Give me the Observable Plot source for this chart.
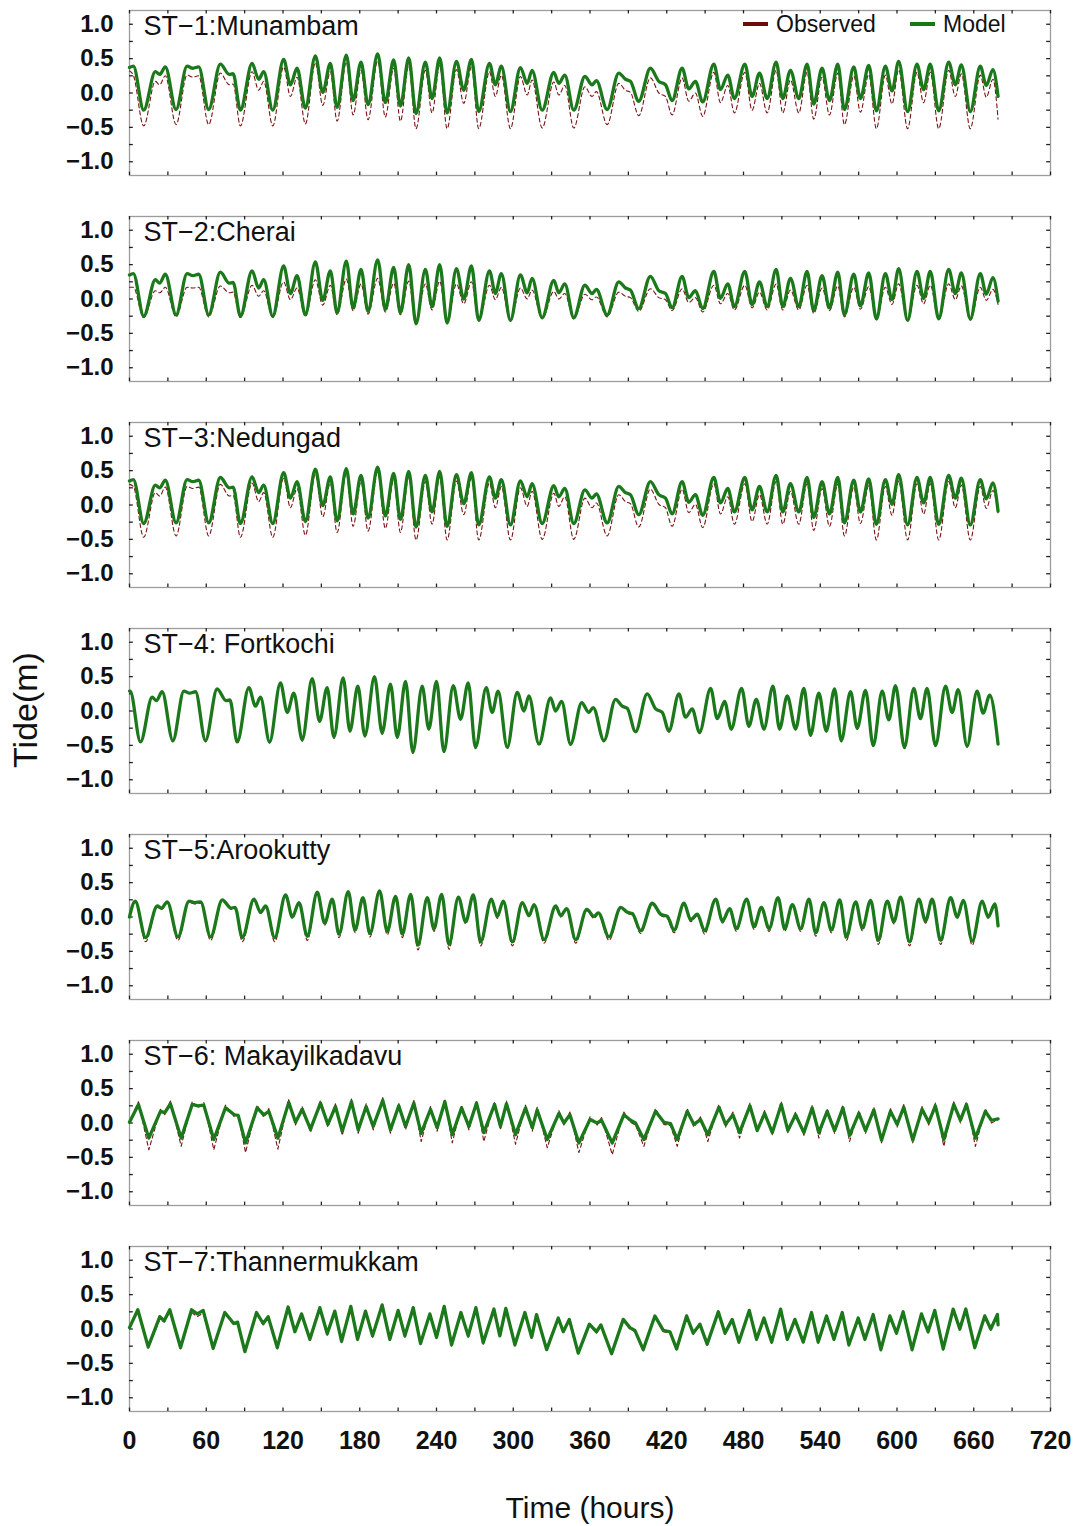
<!DOCTYPE html>
<html>
<head>
<meta charset="utf-8">
<script src="https://cdn.jsdelivr.net/npm/d3@7"></script>
<script src="https://cdn.jsdelivr.net/npm/@observablehq/plot@0.6"></script>
<style>
  html, body { margin: 0; padding: 0; background: #fff; }
  #fig { position: relative; width: 1075px; height: 1526px; font-family: "Liberation Sans", Arial, sans-serif; }
  #fig svg { position: absolute; left: 0; top: 0; }
  .legend-item { position: absolute; top: 9px; height: 30px; display: flex; align-items: center; font-size: 23px; color: #111; }
  .legend-item .sw { width: 25px; height: 4px; margin-right: 8px; }
  #ytitle { position: absolute; left: 25px; top: 710px; transform: translate(-50%, -50%) rotate(-90deg); font-size: 34px; white-space: nowrap; color: #111; }
  #xtitle { position: absolute; left: 590px; top: 1508px; transform: translate(-50%, -50%); font-size: 30px; white-space: nowrap; color: #111; }
</style>
</head>
<body>
<div id="fig">
  <div class="legend-item" style="left:743px"><span class="sw" style="background:#6e0b0b"></span>Observed</div>
  <div class="legend-item" style="left:910px"><span class="sw" style="background:#137a13"></span>Model</div>
  <div id="ytitle">Tide(m)</div>
  <div id="xtitle">Time (hours)</div>
</div>
<script>
// Station panels, top to bottom
const stations = ["ST−1:Munambam", "ST−2:Cherai", "ST−3:Nedungad", "ST−4: Fortkochi",
                  "ST−5:Arookutty", "ST−6: Makayilkadavu", "ST−7:Thannermukkam"];

// Tidal phase lag of each station relative to Fortkochi (hours)
const phaseLagHours = [2.5, 2.5, 2.5, 0, 4, 6.5, 6];

// Upstream backwater stations have a sharper, saw-tooth tide curve
const sawToothStations = ["ST−6: Makayilkadavu", "ST−7:Thannermukkam"];

// Hours of successive high / low waters at Fortkochi
const extremeHours = [
  0.5, 8.6, 17.7, 21.1, 25.5, 33.9, 42.5, 47.0, 51.6, 59.4,
  68.5, 75.5, 78.5, 84.2, 93.3, 98.5, 102.4, 109.5, 118.0, 123.3,
  128.5, 135.0, 142.8, 148.6, 154.5, 159.8, 167.0, 172.3, 178.5, 184.0,
  191.5, 197.5, 204.0, 209.3, 215.8, 221.5, 228.8, 234.0, 240.0, 245.8,
  253.1, 258.8, 264.8, 270.5, 278.9, 283.5, 288.2, 295.3, 303.1, 308.4,
  312.2, 320.1, 329.2, 333.1, 337.8, 344.8, 353.5, 359.1, 362.5, 370.9,
  380.0, 385.2, 389.1, 395.6, 404.7, 411.3, 416.5, 421.7, 429.5, 434.7,
  439.9, 445.6, 454.3, 459.5, 465.2, 470.4, 478.5, 484.2, 490.0, 496.0,
  503.0, 508.2, 514.2, 520.7, 527.2, 532.4, 538.9, 544.7, 551.2, 556.4,
  563.7, 568.9, 575.4, 581.4, 588.4, 593.6, 598.8, 605.8, 613.1, 618.3,
  623.5, 630.1, 637.9, 643.1, 647.8, 654.8, 662.6, 667.3, 672.5
];
const endHour = 679;

// Water level (m) at the start and end of the record
const startModel    = [0.37, 0.35, 0.35, 0.29, 0.00, 0.01, 0.02];
const startObserved = [0.32, 0.17, 0.30, 0.29, 0.00, 0.01, 0.02];
const endModel      = [-0.05, -0.03, -0.09, -0.48, -0.13, 0.06, 0.06];
const endObserved   = [-0.38, -0.08, -0.12, -0.50, -0.15, 0.05, 0.05];

// Levels (m) at each high / low water, per station
const modelST1 = [
  0.39,-0.25,0.31,0.27,0.38,-0.24,0.39,0.36,0.38,-0.24,
  0.42,0.27,0.28,-0.25,0.43,0.20,0.31,-0.25,0.49,0.12,
  0.36,-0.22,0.54,0.01,0.43,-0.21,0.55,-0.11,0.45,-0.17,
  0.57,-0.14,0.48,-0.19,0.51,-0.30,0.45,-0.08,0.51,-0.29,
  0.46,0.04,0.49,-0.27,0.43,0.12,0.39,-0.27,0.37,0.14,
  0.33,-0.25,0.30,0.14,0.26,-0.25,0.24,0.12,0.18,-0.24,
  0.29,0.20,0.17,-0.12,0.36,0.17,0.12,-0.11,0.36,0.06,
  0.17,-0.13,0.42,0.05,0.26,-0.08,0.42,-0.05,0.29,-0.08,
  0.45,-0.08,0.33,-0.08,0.42,-0.16,0.36,-0.11,0.42,-0.24,
  0.38,-0.08,0.40,-0.26,0.39,0.03,0.46,-0.27,0.42,0.05,
  0.42,-0.26,0.45,0.12,0.41,-0.27,0.39,0.11,0.34
];
const observedST1 = [
  0.26,-0.48,0.17,0.12,0.25,-0.46,0.26,0.23,0.25,-0.46,
  0.29,0.12,0.13,-0.48,0.31,0.04,0.17,-0.48,0.38,-0.05,
  0.23,-0.45,0.44,-0.18,0.31,-0.41,0.45,-0.32,0.33,-0.39,
  0.47,-0.35,0.36,-0.41,0.40,-0.52,0.33,-0.29,0.40,-0.52,
  0.34,-0.15,0.38,-0.52,0.31,-0.05,0.26,-0.52,0.24,-0.03,
  0.19,-0.51,0.16,-0.03,0.11,-0.51,0.09,-0.05,0.02,-0.46,
  0.14,0.04,0.01,-0.33,0.22,0.00,-0.05,-0.32,0.22,-0.12,
  0.00,-0.34,0.30,-0.14,0.11,-0.29,0.30,-0.25,0.14,-0.29,
  0.33,-0.29,0.19,-0.29,0.30,-0.38,0.23,-0.32,0.29,-0.46,
  0.25,-0.28,0.27,-0.52,0.26,-0.16,0.34,-0.52,0.30,-0.14,
  0.30,-0.52,0.33,-0.05,0.28,-0.52,0.26,-0.06,0.20
];
const modelST2 = [
  0.37,-0.25,0.28,0.23,0.36,-0.23,0.37,0.34,0.36,-0.23,
  0.39,0.23,0.24,-0.25,0.41,0.16,0.28,-0.25,0.48,0.08,
  0.34,-0.23,0.54,-0.02,0.41,-0.20,0.55,-0.13,0.43,-0.18,
  0.57,-0.15,0.46,-0.20,0.50,-0.36,0.43,-0.11,0.50,-0.35,
  0.44,0.00,0.48,-0.31,0.41,0.08,0.37,-0.31,0.35,0.09,
  0.30,-0.27,0.27,0.09,0.22,-0.27,0.20,0.08,0.14,-0.23,
  0.25,0.16,0.13,-0.14,0.33,0.12,0.08,-0.13,0.33,0.02,
  0.12,-0.14,0.40,0.01,0.22,-0.11,0.40,-0.08,0.25,-0.11,
  0.43,-0.11,0.30,-0.11,0.40,-0.17,0.34,-0.13,0.39,-0.23,
  0.36,-0.10,0.38,-0.29,0.37,-0.01,0.44,-0.31,0.40,0.01,
  0.40,-0.29,0.43,0.08,0.38,-0.29,0.37,0.07,0.31
];
const observedST2 = [
  0.17,-0.27,0.12,0.09,0.17,-0.26,0.17,0.16,0.17,-0.26,
  0.19,0.09,0.10,-0.27,0.20,0.04,0.12,-0.27,0.25,-0.01,
  0.16,-0.25,0.28,-0.09,0.20,-0.23,0.29,-0.17,0.22,-0.22,
  0.30,-0.19,0.23,-0.23,0.26,-0.36,0.22,-0.16,0.26,-0.35,
  0.22,-0.07,0.25,-0.32,0.20,-0.01,0.17,-0.32,0.16,0.00,
  0.13,-0.29,0.11,0.00,0.08,-0.29,0.07,-0.01,0.03,-0.26,
  0.10,0.04,0.02,-0.18,0.15,0.02,-0.01,-0.17,0.15,-0.05,
  0.02,-0.19,0.20,-0.07,0.08,-0.16,0.20,-0.13,0.10,-0.16,
  0.22,-0.16,0.13,-0.16,0.20,-0.21,0.16,-0.17,0.19,-0.26,
  0.17,-0.15,0.18,-0.30,0.17,-0.08,0.22,-0.32,0.20,-0.07,
  0.20,-0.30,0.22,-0.01,0.19,-0.31,0.17,-0.02,0.14
];
const modelST3 = [
  0.37,-0.27,0.29,0.25,0.36,-0.26,0.37,0.34,0.36,-0.26,
  0.40,0.25,0.26,-0.27,0.41,0.18,0.29,-0.27,0.47,0.10,
  0.34,-0.24,0.52,-0.01,0.41,-0.23,0.53,-0.13,0.43,-0.19,
  0.55,-0.16,0.46,-0.21,0.49,-0.32,0.43,-0.10,0.49,-0.31,
  0.44,0.02,0.47,-0.29,0.41,0.10,0.37,-0.29,0.35,0.12,
  0.31,-0.27,0.28,0.12,0.24,-0.27,0.22,0.10,0.16,-0.26,
  0.27,0.18,0.15,-0.14,0.34,0.15,0.10,-0.13,0.34,0.04,
  0.15,-0.15,0.40,0.03,0.24,-0.10,0.40,-0.07,0.27,-0.10,
  0.43,-0.10,0.31,-0.10,0.40,-0.18,0.34,-0.13,0.40,-0.26,
  0.36,-0.10,0.38,-0.28,0.37,0.01,0.44,-0.29,0.40,0.03,
  0.40,-0.28,0.43,0.10,0.39,-0.29,0.37,0.09,0.32
];
const observedST3 = [
  0.27,-0.47,0.18,0.13,0.26,-0.45,0.27,0.24,0.26,-0.45,
  0.30,0.13,0.14,-0.47,0.32,0.05,0.18,-0.47,0.39,-0.04,
  0.24,-0.44,0.45,-0.17,0.32,-0.40,0.46,-0.31,0.34,-0.38,
  0.48,-0.34,0.37,-0.40,0.41,-0.51,0.34,-0.28,0.41,-0.51,
  0.35,-0.14,0.39,-0.51,0.32,-0.04,0.27,-0.51,0.25,-0.02,
  0.20,-0.50,0.17,-0.02,0.12,-0.50,0.10,-0.04,0.03,-0.45,
  0.15,0.05,0.02,-0.32,0.23,0.01,-0.04,-0.31,0.23,-0.11,
  0.01,-0.33,0.31,-0.13,0.12,-0.28,0.31,-0.24,0.15,-0.28,
  0.34,-0.28,0.20,-0.28,0.31,-0.37,0.24,-0.31,0.30,-0.45,
  0.26,-0.27,0.28,-0.51,0.27,-0.15,0.35,-0.51,0.31,-0.13,
  0.31,-0.51,0.34,-0.04,0.29,-0.51,0.27,-0.05,0.21
];
const modelST4 = [
  0.29,-0.45,0.20,0.15,0.28,-0.43,0.29,0.26,0.28,-0.43,
  0.32,0.15,0.16,-0.45,0.34,0.07,0.20,-0.45,0.41,-0.02,
  0.26,-0.42,0.47,-0.15,0.34,-0.38,0.48,-0.29,0.36,-0.36,
  0.50,-0.32,0.39,-0.38,0.43,-0.60,0.36,-0.26,0.43,-0.59,
  0.37,-0.12,0.41,-0.53,0.34,-0.02,0.29,-0.53,0.27,0.00,
  0.22,-0.48,0.19,0.00,0.14,-0.48,0.12,-0.02,0.05,-0.43,
  0.17,0.07,0.04,-0.30,0.25,0.03,-0.02,-0.29,0.25,-0.09,
  0.03,-0.31,0.33,-0.11,0.14,-0.26,0.33,-0.22,0.17,-0.26,
  0.36,-0.26,0.22,-0.26,0.33,-0.35,0.26,-0.29,0.32,-0.43,
  0.28,-0.25,0.30,-0.50,0.29,-0.13,0.37,-0.53,0.33,-0.11,
  0.33,-0.50,0.36,-0.02,0.31,-0.51,0.29,-0.03,0.23
];
const observedST4 = [
  0.29,-0.47,0.20,0.15,0.28,-0.45,0.29,0.26,0.28,-0.45,
  0.32,0.15,0.16,-0.47,0.34,0.07,0.20,-0.47,0.41,-0.03,
  0.26,-0.44,0.47,-0.16,0.34,-0.40,0.48,-0.31,0.36,-0.38,
  0.50,-0.34,0.39,-0.40,0.43,-0.62,0.36,-0.28,0.43,-0.61,
  0.37,-0.13,0.41,-0.55,0.34,-0.03,0.29,-0.55,0.27,-0.01,
  0.22,-0.50,0.19,-0.01,0.14,-0.50,0.12,-0.03,0.05,-0.45,
  0.17,0.07,0.04,-0.32,0.25,0.03,-0.03,-0.31,0.25,-0.10,
  0.03,-0.33,0.33,-0.12,0.14,-0.28,0.33,-0.24,0.17,-0.28,
  0.36,-0.28,0.22,-0.28,0.33,-0.37,0.26,-0.31,0.32,-0.45,
  0.28,-0.27,0.30,-0.52,0.29,-0.14,0.37,-0.55,0.33,-0.12,
  0.33,-0.52,0.36,-0.03,0.31,-0.53,0.29,-0.04,0.23
];
const modelST5 = [
  0.23,-0.30,0.16,0.13,0.22,-0.29,0.23,0.21,0.22,-0.29,
  0.25,0.13,0.14,-0.30,0.26,0.07,0.16,-0.30,0.32,0.00,
  0.21,-0.28,0.36,-0.09,0.26,-0.25,0.37,-0.19,0.28,-0.24,
  0.38,-0.21,0.30,-0.25,0.33,-0.41,0.28,-0.17,0.33,-0.40,
  0.29,-0.07,0.32,-0.36,0.26,0.01,0.23,-0.36,0.21,0.02,
  0.18,-0.33,0.16,0.02,0.12,-0.33,0.11,0.01,0.06,-0.29,
  0.14,0.07,0.05,-0.20,0.20,0.04,0.01,-0.19,0.20,-0.04,
  0.04,-0.20,0.26,-0.06,0.12,-0.17,0.26,-0.14,0.14,-0.17,
  0.28,-0.17,0.18,-0.17,0.26,-0.23,0.21,-0.19,0.25,-0.29,
  0.22,-0.16,0.24,-0.34,0.23,-0.07,0.29,-0.36,0.26,-0.06,
  0.26,-0.34,0.28,0.00,0.24,-0.35,0.23,0.00,0.19
];
const observedST5 = [
  0.21,-0.36,0.14,0.11,0.20,-0.34,0.21,0.19,0.20,-0.34,
  0.23,0.11,0.12,-0.36,0.24,0.05,0.14,-0.36,0.30,-0.02,
  0.19,-0.34,0.34,-0.12,0.24,-0.30,0.35,-0.23,0.26,-0.29,
  0.36,-0.26,0.28,-0.30,0.31,-0.48,0.26,-0.21,0.31,-0.47,
  0.27,-0.10,0.30,-0.42,0.24,-0.02,0.21,-0.42,0.19,0.00,
  0.16,-0.38,0.14,0.00,0.10,-0.38,0.09,-0.02,0.04,-0.34,
  0.12,0.05,0.03,-0.24,0.18,0.02,-0.02,-0.23,0.18,-0.07,
  0.02,-0.25,0.24,-0.09,0.10,-0.21,0.24,-0.18,0.12,-0.21,
  0.26,-0.21,0.16,-0.21,0.24,-0.28,0.19,-0.23,0.23,-0.34,
  0.20,-0.20,0.22,-0.40,0.21,-0.10,0.27,-0.42,0.24,-0.09,
  0.24,-0.40,0.26,-0.02,0.22,-0.41,0.21,-0.02,0.17
];
const modelST6 = [
  0.27,-0.22,0.17,0.15,0.28,-0.22,0.27,0.25,0.26,-0.24,
  0.22,0.12,0.11,-0.29,0.22,0.12,0.17,-0.22,0.30,0.01,
  0.20,-0.09,0.29,-0.02,0.24,-0.12,0.31,-0.10,0.24,-0.05,
  0.33,-0.10,0.25,-0.05,0.29,-0.15,0.20,-0.07,0.31,-0.17,
  0.22,-0.05,0.29,-0.14,0.27,-0.05,0.28,-0.17,0.22,-0.07,
  0.19,-0.24,0.14,0.00,0.12,-0.29,0.05,0.00,0.04,-0.29,
  0.12,0.04,0.00,-0.24,0.17,0.01,-0.01,-0.24,0.17,-0.02,
  0.05,-0.17,0.23,-0.02,0.12,-0.14,0.25,-0.11,0.14,-0.14,
  0.27,-0.11,0.12,-0.14,0.22,-0.14,0.17,-0.11,0.22,-0.18,
  0.14,-0.11,0.19,-0.25,0.17,-0.02,0.23,-0.25,0.20,0.01,
  0.25,-0.24,0.27,0.04,0.27,-0.22,0.17,0.04,0.19
];
const observedST6 = [
  0.31,-0.39,0.20,0.12,0.32,-0.34,0.31,0.22,0.30,-0.39,
  0.26,0.09,0.12,-0.43,0.26,0.08,0.21,-0.38,0.34,-0.03,
  0.24,-0.14,0.33,-0.06,0.28,-0.18,0.35,-0.15,0.28,-0.10,
  0.37,-0.15,0.29,-0.10,0.33,-0.27,0.24,-0.12,0.35,-0.29,
  0.26,-0.10,0.33,-0.27,0.31,-0.10,0.32,-0.31,0.26,-0.12,
  0.23,-0.36,0.18,-0.03,0.16,-0.43,0.09,-0.03,0.08,-0.46,
  0.16,0.01,-0.03,-0.34,0.21,-0.02,-0.04,-0.34,0.21,-0.06,
  0.09,-0.27,0.27,-0.06,0.16,-0.22,0.29,-0.10,0.18,-0.17,
  0.31,-0.14,0.16,-0.18,0.26,-0.22,0.21,-0.15,0.26,-0.27,
  0.18,-0.15,0.23,-0.29,0.21,-0.06,0.27,-0.29,0.24,-0.03,
  0.29,-0.34,0.31,0.00,0.31,-0.34,0.21,0.00,0.23
];
const modelST7 = [
  0.28,-0.26,0.18,0.12,0.28,-0.27,0.28,0.22,0.27,-0.28,
  0.24,0.08,0.10,-0.33,0.24,0.08,0.18,-0.27,0.32,-0.04,
  0.22,-0.15,0.31,-0.07,0.26,-0.18,0.33,-0.15,0.26,-0.10,
  0.35,-0.15,0.27,-0.10,0.31,-0.21,0.22,-0.12,0.33,-0.23,
  0.24,-0.10,0.31,-0.20,0.29,-0.10,0.30,-0.23,0.24,-0.12,
  0.21,-0.30,0.16,-0.04,0.14,-0.35,0.07,-0.04,0.06,-0.36,
  0.14,0.02,-0.02,-0.30,0.19,-0.02,-0.04,-0.29,0.19,-0.06,
  0.07,-0.22,0.25,-0.06,0.14,-0.19,0.27,-0.15,0.16,-0.19,
  0.29,-0.15,0.14,-0.19,0.24,-0.19,0.19,-0.15,0.24,-0.23,
  0.16,-0.15,0.21,-0.30,0.19,-0.06,0.25,-0.30,0.22,-0.04,
  0.27,-0.29,0.29,0.00,0.29,-0.27,0.19,0.00,0.21
];
const observedST7 = [
  0.26,-0.28,0.14,0.10,0.25,-0.29,0.24,0.18,0.23,-0.30,
  0.22,0.06,0.08,-0.35,0.22,0.06,0.16,-0.29,0.30,-0.06,
  0.20,-0.17,0.30,-0.09,0.25,-0.20,0.32,-0.17,0.25,-0.12,
  0.34,-0.17,0.26,-0.12,0.30,-0.23,0.21,-0.14,0.32,-0.25,
  0.23,-0.12,0.30,-0.22,0.28,-0.12,0.29,-0.25,0.23,-0.14,
  0.20,-0.32,0.15,-0.06,0.13,-0.37,0.06,-0.06,0.05,-0.38,
  0.13,0.00,-0.04,-0.32,0.18,-0.04,-0.06,-0.31,0.18,-0.08,
  0.06,-0.24,0.24,-0.08,0.13,-0.21,0.26,-0.17,0.15,-0.21,
  0.28,-0.17,0.13,-0.21,0.23,-0.21,0.18,-0.17,0.23,-0.25,
  0.15,-0.17,0.20,-0.32,0.18,-0.08,0.24,-0.32,0.21,-0.06,
  0.26,-0.31,0.28,-0.02,0.28,-0.29,0.18,-0.02,0.20
];

const modelByStation = [modelST1, modelST2, modelST3, modelST4, modelST5, modelST6, modelST7];
const observedByStation = [observedST1, observedST2, observedST3, observedST4, observedST5, observedST6, observedST7];

// Axis ticks
const xTicks = [0, 60, 120, 180, 240, 300, 360, 420, 480, 540, 600, 660, 720];
const xMinorTicks = d3.range(0, 721, 30);
const yTicks = [-1, -0.5, 0, 0.5, 1];
const yMinorTicks = [-1, -0.75, -0.5, -0.25, 0, 0.25, 0.5, 0.75, 1];
const yDomain = [-1.2, 1.2];

// Build one time series per station and series
function seriesRows(levelsByStation, startLevels, endLevels) {
  const rows = [];
  stations.forEach((station, s) => {
    rows.push({station, hour: 0, level: startLevels[s]});
    extremeHours.forEach((h, i) => {
      const hour = h + phaseLagHours[s];
      if (hour > 0 && hour < endHour) rows.push({station, hour, level: levelsByStation[s][i]});
    });
    rows.push({station, hour: endHour, level: endLevels[s]});
  });
  return rows;
}
const observedRows = seriesRows(observedByStation, startObserved, endObserved);
const modelRows = seriesRows(modelByStation, startModel, endModel);
const isSaw = d => sawToothStations.includes(d.station);

const tickFont = '"Liberation Sans Narrow", "Arial Narrow", "Liberation Sans", Arial, sans-serif';
const obsStyle = {x: "hour", y: "level", fy: "station", z: "station",
  stroke: "#7a1414", strokeWidth: 1.1, strokeDasharray: "4,3"};
const modelStyle = {x: "hour", y: "level", fy: "station", z: "station",
  stroke: "#1b781b", strokeWidth: 3.3};

const chart = Plot.plot({
  width: 1075,
  height: 1526,
  marginLeft: 129,
  marginRight: 25,
  marginTop: 8,
  marginBottom: 112,
  style: {background: "white", color: "#111", fontFamily: tickFont},
  x: {domain: [0, 720]},
  y: {domain: yDomain},
  fy: {domain: stations, paddingInner: 0.198, paddingOuter: 0, axis: null},
  marks: [
    Plot.frame({stroke: "#9c9c9c", strokeWidth: 1.3}),
    Plot.ruleX(xMinorTicks, {x: d => d, y1: yDomain[1], y2: yDomain[1] - 0.05, stroke: "#222", strokeWidth: 1.3}),
    Plot.ruleX(xMinorTicks, {x: d => d, y1: yDomain[0], y2: yDomain[0] + 0.05, stroke: "#222", strokeWidth: 1.3}),
    Plot.ruleY(yMinorTicks, {y: d => d, x1: 0, x2: 3, stroke: "#222", strokeWidth: 1.3}),
    Plot.ruleY(yMinorTicks, {y: d => d, x1: 717, x2: 720, stroke: "#222", strokeWidth: 1.3}),
    Plot.axisY({ticks: yTicks, tickFormat: d3.format(".1f"), tickSize: 0, tickPadding: 16,
                fontSize: 24, fontWeight: "bold", fontFamily: tickFont, label: null}),
    Plot.axisX({ticks: xTicks, tickFormat: d => String(d), tickSize: 0, tickPadding: 20,
                fontSize: 25, fontWeight: "bold", fontFamily: tickFont, label: null}),
    Plot.line(observedRows.filter(d => !isSaw(d)), {...obsStyle, curve: "monotone-x"}),
    Plot.line(observedRows.filter(isSaw), {...obsStyle, curve: "linear"}),
    Plot.line(modelRows.filter(d => !isSaw(d)), {...modelStyle, curve: "monotone-x"}),
    Plot.line(modelRows.filter(isSaw), {...modelStyle, curve: "linear"}),
    Plot.text(stations, {text: d => d, fy: d => d, frameAnchor: "top-left", dx: 14, dy: 5,
      lineAnchor: "top", textAnchor: "start", fontSize: 27, fontWeight: "normal",
      fontFamily: '"Liberation Sans", Arial, sans-serif', fill: "#111"})
  ]
});
document.getElementById("fig").prepend(chart);
</script>
</body>
</html>
